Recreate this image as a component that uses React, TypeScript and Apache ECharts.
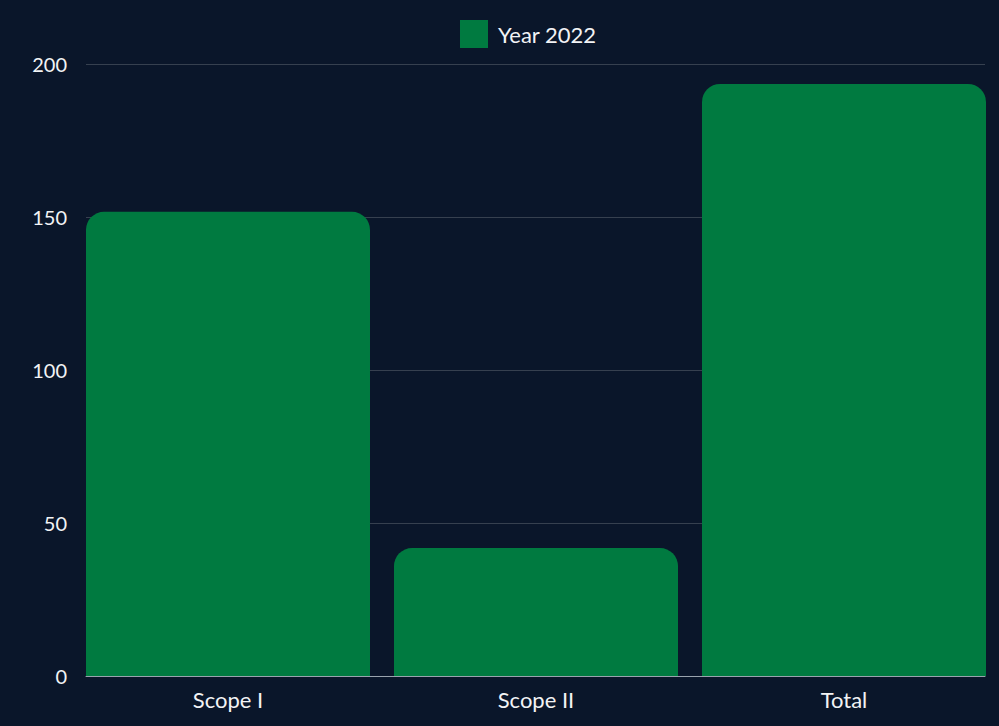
import React, { useEffect, useRef } from "react";
import * as echarts from "echarts";

const categories = ["Scope I", "Scope II", "Total"];
const seriesName = "Year 2022";
const values = [151.7, 41.8, 193.5];
const yTicks = { min: 0, max: 200, interval: 50 };

export default function App() {
  const ref = useRef<HTMLDivElement>(null);
  useEffect(() => {
    if (!ref.current) return;
    const chart = echarts.init(ref.current, null, { renderer: "svg" });
    const font = "Lato, 'Open Sans', sans-serif";
    chart.setOption({
      animation: false,
      backgroundColor: "#0a162a",
      textStyle: { fontFamily: font },
      legend: {
        left: 455,
        top: 15,
        itemWidth: 28,
        itemHeight: 28,
        icon: "rect",
        textStyle: { color: "#f2f3f5", fontSize: 22, fontFamily: font, padding: [0, 0, 0, 5] },
        data: [seriesName],
      },
      grid: [
        { left: 74, right: 1, top: 64, bottom: 50 },
        { left: 86, right: 14, top: 64, bottom: 50 },
      ],
      xAxis: [
        {
          type: "category",
          gridIndex: 0,
          data: categories,
          axisLine: { show: false },
          axisTick: { show: false },
          axisLabel: { color: "#f2f3f5", fontSize: 22, margin: 12, fontFamily: font },
        },
        {
          type: "value",
          gridIndex: 1,
          show: true,
          min: 0,
          max: 1,
          position: "bottom",
          axisLine: { show: true, onZero: false, lineStyle: { color: "#9aa3ae", width: 1 } },
          axisTick: { show: false },
          axisLabel: { show: false },
          splitLine: { show: false },
        },
      ],
      yAxis: [
        {
          type: "value",
          gridIndex: 0,
          min: yTicks.min,
          max: yTicks.max,
          interval: yTicks.interval,
          axisLine: { show: false },
          axisTick: { show: false },
          axisLabel: { show: false },
          splitLine: { show: false },
        },
        {
          type: "value",
          gridIndex: 1,
          min: yTicks.min,
          max: yTicks.max,
          interval: yTicks.interval,
          axisLine: { show: false },
          axisTick: { show: false },
          axisLabel: { color: "#f2f3f5", fontSize: 20, margin: 19, fontFamily: font },
          splitLine: { show: true, lineStyle: { color: "#36404f", width: 1 } },
        },
      ],
      series: [
        {
          name: seriesName,
          type: "bar",
          xAxisIndex: 0,
          yAxisIndex: 0,
          data: values,
          barWidth: 284,
          itemStyle: { color: "#007a40", borderRadius: [18, 18, 0, 0] },
          z: 5,
        },
      ],
    });
    return () => chart.dispose();
  }, []);
  return <div ref={ref} style={{ width: 999, height: 726, position: "absolute", left: 0, top: 0 }} />;
}
